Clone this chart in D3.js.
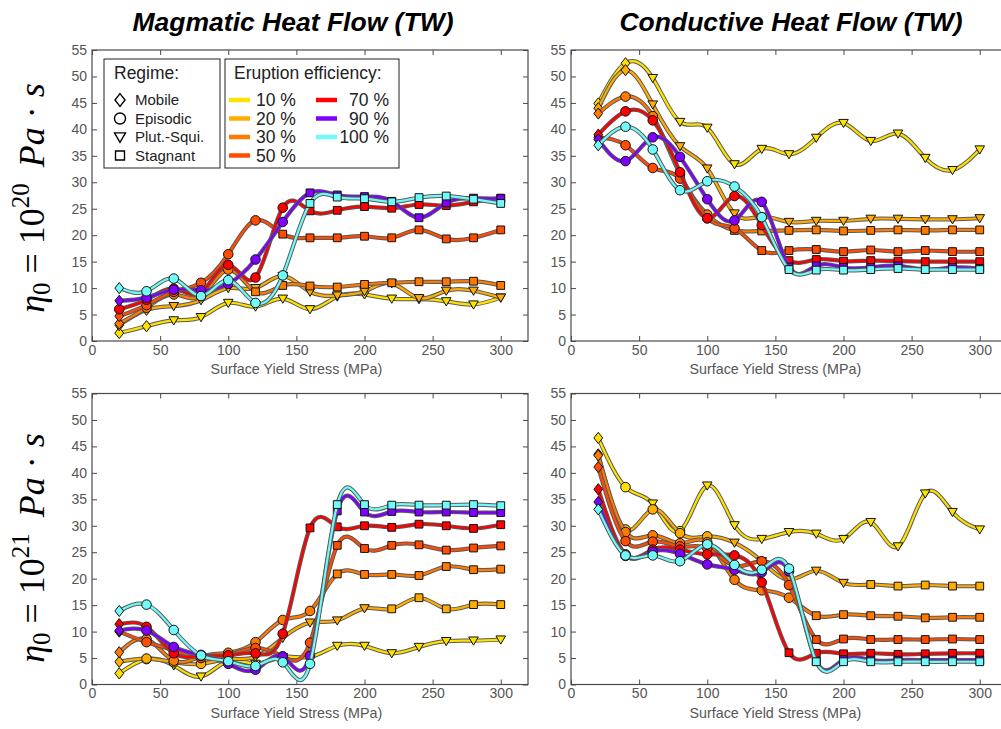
<!DOCTYPE html>
<html>
<head>
<meta charset="utf-8">
<script src="https://cdnjs.cloudflare.com/ajax/libs/d3/7.8.5/d3.min.js"></script>
<style>
  body { margin: 0; background: #fff; }
  svg { display: block; font-family: "Liberation Sans", Arial, Helvetica, sans-serif; }
</style>
</head>
<body>
<svg id="chart"></svg>
<script>
// x positions (surface yield stress, MPa)
const stress = [20, 40, 60, 80, 100, 120, 140, 160, 180, 200, 220, 240, 260, 280, 300];
const xTicks = [0, 50, 100, 150, 200, 250, 300];
const yTicks = [0, 5, 10, 15, 20, 25, 30, 35, 40, 45, 50, 55];

const efficiency = ['10 %', '20 %', '30 %', '50 %', '70 %', '90 %', '100 %'];
const colors = ['#ffe100', '#ffad00', '#ff7a00', '#ff4c00', '#ff0000', '#7f00ff', '#70fafa'];
const regimeNames = ['Mobile', 'Episodic', 'Plut.-Squi.', 'Stagnant'];
const regimeCodes = ['D', 'C', 'T', 'S'];

// magmatic heat flow, eta0 = 1e20
const magmatic20 = [
  [1.5, 2.8, 3.9, 4.5, 7.2, 6.5, 8.0, 6.0, 8.4, 8.8, 8.0, 7.9, 7.5, 6.9, 8.2],
  [3.0, 5.9, 6.6, 7.7, 10.0, 10.0, 12.3, 9.3, 8.6, 9.4, 10.9, 8.1, 9.5, 9.5, 8.2],
  [3.3, 6.3, 8.8, 8.5, 13.5, 9.3, 10.5, 10.4, 10.2, 10.7, 11.0, 11.2, 11.2, 11.3, 10.5],
  [4.7, 6.8, 9.3, 11.0, 16.4, 22.8, 20.2, 19.5, 19.5, 19.8, 19.5, 21.0, 19.3, 19.5, 21.0],
  [6.0, 7.8, 9.9, 9.2, 14.4, 12.0, 25.2, 24.6, 24.7, 25.4, 25.1, 25.8, 25.6, 26.3, 27.0],
  [7.6, 8.2, 9.7, 9.6, 10.8, 15.4, 22.5, 28.0, 27.6, 27.3, 26.4, 23.3, 26.1, 27.0, 26.9],
  [10.0, 9.4, 11.8, 8.5, 11.5, 7.2, 12.4, 26.0, 27.2, 26.9, 26.3, 27.1, 27.4, 26.8, 26.0]
];
const magmatic20Regime = ['DDTTTTTTTTTTTTT', 'DDTTTTTTTTTTTTT', 'DCCCCSSSSSSSSSS', 'DCCCCCSSSSSSSSS',
  'CCCCCCCSSSSSSSS', 'DCCCCCCSSSSSSSS', 'DCCCCCCSSSSSSSS'];

// conductive heat flow, eta0 = 1e20
const conductive20 = [
  [44.9, 52.5, 49.7, 41.4, 40.3, 33.4, 36.3, 35.3, 38.4, 41.2, 37.8, 39.2, 34.6, 32.3, 36.2],
  [44.0, 51.2, 44.7, 36.8, 32.6, 24.1, 23.5, 22.5, 22.7, 22.7, 23.1, 23.1, 23.0, 23.0, 23.2],
  [43.0, 46.2, 42.5, 31.5, 23.9, 20.9, 20.8, 20.9, 21.0, 20.8, 20.9, 21.0, 20.9, 21.0, 21.0],
  [38.5, 37.0, 32.7, 30.7, 23.2, 21.3, 17.1, 17.1, 17.3, 16.9, 17.2, 16.9, 17.1, 16.9, 16.9],
  [39.0, 43.4, 41.7, 31.9, 23.2, 27.4, 21.9, 15.2, 15.4, 15.1, 15.2, 15.1, 15.0, 15.0, 15.0],
  [38.1, 34.0, 38.5, 34.8, 26.8, 22.8, 26.3, 14.0, 14.2, 13.9, 13.9, 14.2, 13.5, 13.9, 13.7],
  [37.0, 40.5, 36.2, 28.5, 30.2, 29.2, 23.4, 13.5, 13.4, 13.4, 13.5, 13.7, 13.5, 13.5, 13.5]
];
const conductive20Regime = ['DDTTTTTTTTTTTTT', 'DDTTTTTTTTTTTTT', 'DCCCCSSSSSSSSSS', 'DCCCCCSSSSSSSSS',
  'DCCCCCCSSSSSSSS', 'DCCCCCCSSSSSSSS', 'DCCCCCCSSSSSSSS'];

// magmatic heat flow, eta0 = 1e21
const magmatic21 = [
  [2.1, 4.8, 3.6, 1.5, 4.5, 3.9, 5.2, 5.2, 7.3, 7.3, 5.9, 7.1, 8.2, 8.3, 8.5],
  [4.3, 4.9, 4.2, 3.9, 4.8, 5.2, 8.8, 11.7, 12.1, 14.4, 14.3, 16.4, 14.3, 15.1, 15.1],
  [6.1, 8.6, 4.5, 5.3, 6.0, 8.0, 12.2, 13.9, 20.9, 20.8, 20.8, 20.6, 22.3, 21.7, 21.8],
  [10.0, 8.0, 6.5, 5.0, 5.5, 6.9, 5.3, 7.9, 26.3, 25.7, 26.3, 26.4, 25.4, 25.8, 26.2],
  [11.4, 10.9, 5.9, 5.4, 5.5, 5.9, 9.6, 29.6, 29.8, 30.0, 29.7, 30.3, 30.0, 29.5, 30.2],
  [10.2, 10.2, 7.1, 5.6, 3.9, 2.8, 5.3, 5.4, 32.8, 32.6, 32.7, 32.6, 32.6, 32.5, 32.5],
  [13.9, 15.1, 10.3, 5.5, 4.4, 3.5, 4.2, 3.9, 34.0, 34.0, 33.9, 33.9, 33.9, 34.0, 33.8]
];
const magmatic21Regime = ['DCTTTTTTTTTTTTT', 'DCCCTTTTTTSSSSS', 'DCCCCCCCSSSSSSS', 'DCCCCCCCSSSSSSS',
  'DCCCCCCSSSSSSSS', 'DCCCCCCCSSSSSSS', 'DCCCCCCCSSSSSSS'];

// conductive heat flow, eta0 = 1e21
const conductive21 = [
  [46.6, 37.3, 34.2, 29.0, 37.6, 30.1, 27.5, 28.8, 28.5, 27.5, 30.7, 26.1, 36.1, 32.6, 29.3],
  [43.5, 29.3, 33.1, 28.6, 28.0, 26.8, 23.3, 19.8, 21.5, 19.2, 18.9, 18.6, 18.8, 18.6, 18.6],
  [43.3, 28.8, 28.2, 26.7, 26.9, 19.8, 17.8, 16.4, 13.0, 13.2, 13.0, 12.9, 12.6, 12.7, 12.7],
  [41.1, 27.1, 27.0, 26.1, 25.8, 22.4, 23.3, 18.8, 8.5, 8.6, 8.5, 8.5, 8.5, 8.6, 8.5],
  [36.9, 24.6, 25.5, 25.5, 24.6, 24.4, 19.3, 6.0, 5.9, 5.8, 5.9, 5.7, 5.8, 5.9, 5.9],
  [34.5, 24.3, 25.1, 24.7, 22.7, 21.7, 21.2, 21.4, 4.4, 4.7, 4.6, 4.6, 4.6, 4.6, 4.6],
  [33.1, 24.4, 24.4, 23.3, 26.5, 22.6, 21.7, 21.9, 4.3, 4.3, 4.3, 4.3, 4.3, 4.3, 4.3]
];
const conductive21Regime = ['DCTCTTTTTTTTTTT', 'DCCCCTTSTTSSSSS', 'DCCCCCCCSSSSSSS', 'DCCCCCCCSSSSSSS',
  'DCCCCCCSSSSSSSS', 'DCCCCCCCSSSSSSS', 'DCCCCCCCSSSSSSS'];

let width = 1001;
let height = 729;
let axisColor = '#4a4a4a';

let svg = d3.select('#chart')
  .attr('width', width)
  .attr('height', height);

let panels = [
  { data: magmatic20, regime: magmatic20Regime, left: 92, top: 50, bottom: 341 },
  { data: conductive20, regime: conductive20Regime, left: 571, top: 50, bottom: 341 },
  { data: magmatic21, regime: magmatic21Regime, left: 92, top: 393.5, bottom: 684.5 },
  { data: conductive21, regime: conductive21Regime, left: 571, top: 393.5, bottom: 684.5 }
];

let markerPath = (code) => {
  if (code === 'D') return 'M0,-5.6L4.4,0L0,5.6L-4.4,0Z';
  if (code === 'T') return 'M-4.8,-3.6L4.8,-3.6L0,4.6Z';
  if (code === 'S') return 'M-3.9,-3.9H3.9V3.9H-3.9Z';
  return d3.symbol(d3.symbolCircle, 72)();
};

let drawPanel = (p) => {
  let x = d3.scaleLinear().domain([0, 320]).range([p.left, p.left + 436]);
  let y = d3.scaleLinear().domain([0, 55]).range([p.bottom, p.top]);
  let g = svg.append('g');

  let styleAxis = (sel) => {
    sel.select('.domain').remove();
    sel.selectAll('line').attr('stroke', axisColor);
    sel.selectAll('text').attr('fill', '#555').attr('font-size', 14)
      .attr('font-family', '"Liberation Sans", Arial, sans-serif');
  };

  g.append('g')
    .attr('transform', 'translate(0,' + p.bottom + ')')
    .call(d3.axisBottom(x).tickValues(xTicks).tickSizeInner(-5).tickSizeOuter(0).tickPadding(4))
    .call(styleAxis);
  g.append('g')
    .attr('transform', 'translate(0,' + p.top + ')')
    .call(d3.axisTop(x).tickValues(xTicks).tickSizeInner(-5).tickSizeOuter(0).tickFormat(''))
    .call(styleAxis);
  g.append('g')
    .attr('transform', 'translate(' + p.left + ',0)')
    .call(d3.axisLeft(y).tickValues(yTicks).tickSizeInner(-5).tickSizeOuter(0).tickPadding(5))
    .call(styleAxis);
  g.append('g')
    .attr('transform', 'translate(' + x(320) + ',0)')
    .call(d3.axisRight(y).tickValues(yTicks).tickSizeInner(-5).tickSizeOuter(0).tickFormat(''))
    .call(styleAxis);

  g.append('rect')
    .attr('x', x(0)).attr('y', y(55))
    .attr('width', x(320) - x(0)).attr('height', y(0) - y(55))
    .attr('fill', 'none').attr('stroke', axisColor).attr('stroke-width', 1.2);

  g.append('text')
    .attr('x', x(150)).attr('y', p.bottom + 33)
    .attr('text-anchor', 'middle').attr('font-size', 14.3).attr('fill', '#555')
    .text('Surface Yield Stress (MPa)');

  let line = d3.line()
    .x((d, i) => x(stress[i]))
    .y((d) => y(d))
    .curve(d3.curveNatural);

  p.data.forEach((vals, k) => {
    g.append('path').attr('d', line(vals))
      .attr('fill', 'none').attr('stroke', '#5a5a5a').attr('stroke-width', 4.2);
    g.append('path').attr('d', line(vals))
      .attr('fill', 'none').attr('stroke', colors[k]).attr('stroke-width', 2.2);
    g.selectAll(null)
      .data(vals)
      .enter()
      .append('path')
      .attr('d', (d, i) => markerPath(p.regime[k][i]))
      .attr('transform', (d, i) => 'translate(' + x(stress[i]) + ',' + y(d) + ')')
      .attr('fill', colors[k])
      .attr('stroke', '#111')
      .attr('stroke-width', 1);
  });
};

panels.forEach(drawPanel);

// column titles
let titles = [['Magmatic Heat Flow (TW)', 293], ['Conductive Heat Flow (TW)', 791]];
titles.forEach((t) => {
  svg.append('text')
    .attr('x', t[1]).attr('y', 31)
    .attr('text-anchor', 'middle')
    .attr('font-size', 26.5).attr('font-weight', 'bold').attr('font-style', 'italic')
    .text(t[0]);
});

// row labels: eta_0 = 10^20 Pa.s
let rowLabels = [['20', 198], ['21', 548]];
rowLabels.forEach((r) => {
  let t = svg.append('text')
    .attr('transform', 'translate(44,' + r[1] + ') rotate(-90)')
    .attr('text-anchor', 'middle')
    .attr('font-family', '"Liberation Serif", "DejaVu Serif", serif')
    .attr('font-size', 36);
  t.append('tspan').attr('font-style', 'italic').text('η');
  t.append('tspan').attr('font-size', 25).attr('dy', 6).text('0');
  t.append('tspan').attr('dy', -6).text(' = 10');
  t.append('tspan').attr('font-size', 25).attr('dy', -15).text(r[0]);
  t.append('tspan').attr('dy', 15).attr('font-style', 'italic').attr('dx', 16).text('Pa');
  t.append('tspan').text(' · ');
  t.append('tspan').attr('font-style', 'italic').text('s');
});

// legend
let legend = svg.append('g');
legend.append('rect').attr('x', 104).attr('y', 59).attr('width', 116).attr('height', 109)
  .attr('fill', '#fff').attr('stroke', '#222').attr('stroke-width', 1);
legend.append('rect').attr('x', 225).attr('y', 59).attr('width', 174).attr('height', 109)
  .attr('fill', '#fff').attr('stroke', '#222').attr('stroke-width', 1);
legend.append('text').attr('x', 114).attr('y', 79).attr('font-size', 17.5).attr('fill', '#222').text('Regime:');
legend.append('text').attr('x', 234).attr('y', 79).attr('font-size', 17.5).attr('fill', '#222').text('Eruption efficiency:');

let rowY = [100, 118.5, 137, 155.5];
regimeNames.forEach((name, i) => {
  legend.append('path').attr('d', markerPath(regimeCodes[i]))
    .attr('transform', 'translate(120,' + rowY[i] + ') scale(1.15)')
    .attr('fill', '#fff').attr('stroke', '#000').attr('stroke-width', 1.2);
  legend.append('text').attr('x', 135).attr('y', rowY[i] + 5.2)
    .attr('font-size', 15).attr('fill', '#222').text(name);
});

efficiency.forEach((label, k) => {
  let col = k < 4 ? 0 : 1;
  let row = k < 4 ? k : k - 4;
  let x0 = col === 0 ? 229 : 316;
  legend.append('line')
    .attr('x1', x0).attr('x2', x0 + 21)
    .attr('y1', rowY[row]).attr('y2', rowY[row])
    .attr('stroke', colors[k]).attr('stroke-width', 4.5);
  legend.append('text')
    .attr('x', col === 0 ? 256 : 389).attr('y', rowY[row] + 6)
    .attr('text-anchor', col === 0 ? 'start' : 'end')
    .attr('font-size', 17.5).attr('fill', '#222').text(label);
});
</script>
</body>
</html>
